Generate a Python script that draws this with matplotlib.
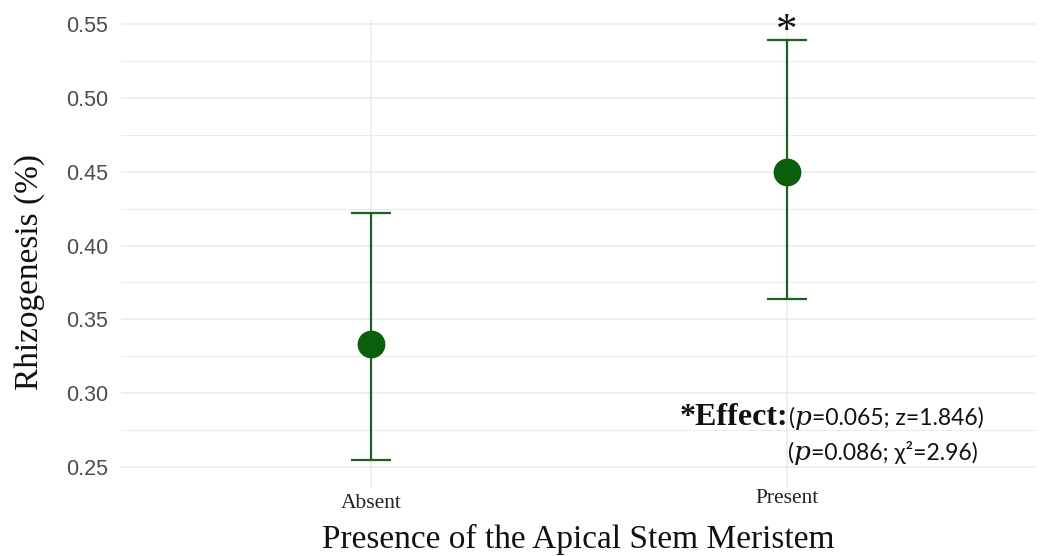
import matplotlib
matplotlib.use("Agg")
import matplotlib.pyplot as plt
import matplotlib.transforms as mtransforms
from matplotlib.ticker import MultipleLocator

# ---- data ----
categories = ["Absent", "Present"]
means = [0.333, 0.450]
lower = [0.255, 0.364]
upper = [0.422, 0.539]
yticks = [0.25, 0.30, 0.35, 0.40, 0.45, 0.50, 0.55]
ytick_labels = ["0.25", "0.30", "0.35", "0.40", "0.45", "0.50", "0.55"]
xlabel = "Presence of the Apical Stem Meristem"
ylabel = "Rhizogenesis (%)"
line1 = [("*Effect:", "bold"), ("(", "s"), ("p", "i"), ("=0.065; z=1.846)", "s")]
line2 = [("(", "s"), ("p", "i"), ("=0.086; χ²=2.96)", "s")]

W, H = 1040, 556
fig = plt.figure(figsize=(W / 100, H / 100), dpi=100)
ax = fig.add_axes([121.4 / W, 1 - 488 / H, (1036 - 121.4) / W, (488 - 19.6) / H])

x = list(range(1, len(categories) + 1))
err_lo = [m - l for m, l in zip(means, lower)]
err_hi = [u - m for m, u in zip(means, upper)]
ax.errorbar(x, means, yerr=[err_lo, err_hi], fmt="none", ecolor="#1f5f1f",
            elinewidth=1.6, capsize=14.5, capthick=1.6, zorder=3)
ax.plot(x, means, "o", color="#0b5e0b", markersize=19, zorder=4, linestyle="none")

ax.set_xlim(0.4, len(categories) + 0.6)
ax.set_ylim(0.2358, 0.553)
ax.set_xticks(x)
ax.set_xticklabels(categories, family="Liberation Serif", fontsize=15.5, color="#222222")
ax.set_yticks(yticks)
ax.set_yticklabels(ytick_labels, family="Liberation Sans", fontsize=15.5, color="#4D4D4D")
ax.yaxis.set_minor_locator(MultipleLocator(0.025))
ax.tick_params(axis="both", which="both", length=0)
ax.tick_params(axis="y", pad=9.5)
ax.tick_params(axis="x", pad=4)

ax.grid(True, which="major", color="#EBEBEB", linewidth=1.1)
ax.grid(True, which="minor", axis="y", color="#EBEBEB", linewidth=0.7)
ax.set_axisbelow(True)
for s in ax.spines.values():
    s.set_visible(False)

# Present label slightly higher
lbl = ax.get_xticklabels()[1]
lbl.set_transform(lbl.get_transform() + mtransforms.ScaledTranslation(0, 5 / 100, fig.dpi_scale_trans))

ax.set_xlabel(xlabel, family="Liberation Serif", fontsize=24, color="#111111")
ax.xaxis.label.set_va("baseline")
ax.xaxis.set_label_coords(0.5, (488 - 548) / (488 - 19.6))
ax.set_ylabel(ylabel, family="Liberation Serif", fontsize=24, color="#111111")
ax.yaxis.label.set_va("center")
ax.yaxis.set_label_coords((30 - 121.4) / (1036 - 121.4), (488 - 272) / (488 - 19.6))

# asterisk above Present
ax.annotate("*", xy=(2, upper[1]), xytext=(0, -1), textcoords="offset points",
            ha="center", va="baseline", family="Liberation Serif", fontsize=31, color="#111111")

fig.canvas.draw()
renderer = fig.canvas.get_renderer()


def draw_row(x0, y0, pieces):
    xp = x0
    for s, kind in pieces:
        if kind == "bold":
            kw = dict(family="Liberation Serif", fontweight="bold", fontsize=23)
        elif kind == "i":
            kw = dict(family="DejaVu Serif", style="italic", fontsize=19)
        else:
            kw = dict(family=["Lato", "DejaVu Sans"], fontsize=16.5)
        t = fig.text(xp / W, y0 / H, s, va="baseline", ha="left", color="#111111", **kw)
        bb = t.get_window_extent(renderer)
        xp = bb.x1


draw_row(680, H - 425, line1)
draw_row(788, H - 460, line2)

fig.savefig("out.png", dpi=100, facecolor="white")
